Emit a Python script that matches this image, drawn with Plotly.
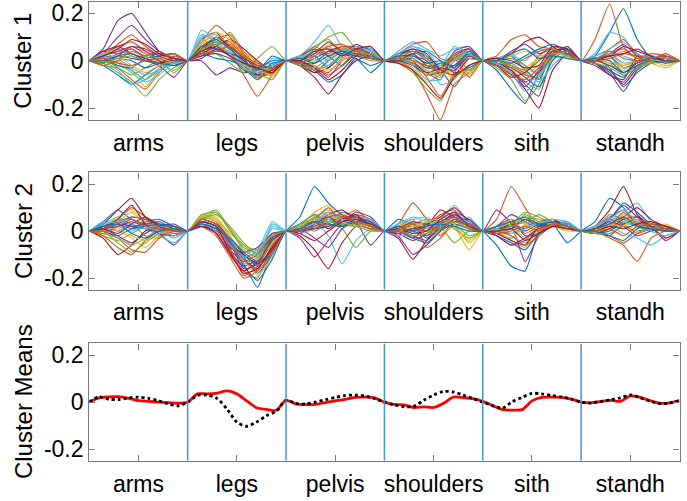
import plotly.graph_objects as go

# Movement segments along the x axis (one unit each)
SEGMENTS = ["arms", "legs", "pelvis", "shoulders", "sith", "standh"]
# MATLAB default line colour order
COLORS = ["#0072BD", "#D95319", "#EDB120", "#7E2F8E", "#77AC30", "#4DBEEE", "#A2142F"]
# interior sample positions within a segment (segment fraction)
T_IN = [0.14, 0.29, 0.43, 0.57, 0.71, 0.86]

# ---- Cluster 1 profiles, values in hundredths, one row per subject ----
C1_ARMS = [
    [-2, -6, -10, -6, -2, 1], [1, -3, -8, -12, -5, 0], [2, 4, 3, 1, 0, -2], [5, 17, 20, 12, 4, 1],
    [-1, -5, -9, -15, -8, -3], [0, -4, -10, -8, -3, 2], [3, 6, 8, 4, 1, -1], [4, 3, 5, 2, 3, 1],
    [2, 7, 11, 6, 2, -2], [1, 0, -4, -11, -4, 0], [3, 10, 15, 9, 4, 1], [-2, -3, -6, -3, 0, -5],
    [3, 5, 2, 0, 2, 3], [-1, 2, 6, 3, 0, -2], [2, 1, 0, -3, -1, 1], [0, 3, 5, 1, -2, 2],
    [3, 5, 8, 3, 1, 0], [1, 2, 1, 0, -2, -7], [0, -2, -4, -8, -4, 0], [2, -1, -5, -9, -6, -1],
    [4, 6, 3, 1, -1, 0], [1, -2, -3, 1, 2, 3], [-2, 0, 4, 2, 4, 1], [1, 2, -2, -5, -2, 0],
    [2, 4, 6, 5, 2, 0], [-1, 1, 2, 0, -1, -4], [3, 1, -3, -6, -4, -1], [2, 5, 9, 7, 3, 1],
    [0, 2, 3, 0, -1, -2], [1, -1, -2, 0, 1, 3],
]
C1_LEGS = [
    [5, 8, 6, -2, -6, -4], [8, 15, 10, 2, -3, -2], [6, 10, 7, 3, -5, -6], [9, 12, 5, -1, -5, -3],
    [3, 6, 12, 4, -2, -4], [13, 9, 5, 0, -4, -3], [4, 7, 8, 2, -4, -5], [2, 4, 3, -3, -8, -2],
    [2, 5, 3, -6, -15, -6], [7, 9, 8, 4, -1, -7], [0, -6, -3, -5, -4, -2], [4, 3, -1, -5, 1, 6],
    [10, 11, 6, 1, -2, -1], [3, 6, 9, 5, 0, -4], [6, 5, 2, -4, -6, -1], [5, 9, 11, 3, -3, -5],
    [7, 12, 9, 2, -2, -4], [2, 3, 1, -3, -7, -5], [4, 8, 5, 0, -5, -8], [9, 6, 4, -1, -5, 1],
    [5, 10, 6, 1, -6, -4], [3, 1, 0, -2, -3, 0], [6, 4, 7, 0, -8, -3], [8, 10, 4, -2, -4, -6],
    [1, 5, 3, 1, -2, -3], [5, 7, 2, -3, -7, -2], [11, 8, 3, -3, -5, -2], [4, 6, 2, -1, -3, -5],
    [6, 9, 5, 0, -4, 2], [3, 4, 6, 2, -1, -3],
]
C1_PELVIS = [
    [-1, -4, -9, -6, 1, -5], [1, 4, 2, 5, 4, 2], [2, 3, 5, 4, 3, 1], [-2, -5, 0, 4, 5, 5],
    [1, 6, 9, 3, 2, 1], [2, 8, 15, 6, 4, 2], [-2, -7, -14, -6, 0, 2], [0, 2, -3, 3, 5, 3],
    [-1, -3, -6, -2, 4, 6], [1, 0, 3, 6, 4, 2], [-2, -2, -7, 0, 3, 4], [0, 5, 10, 12, 5, 3],
    [1, 3, 6, 2, 6, 5], [-1, -5, -3, 2, 7, 4], [2, 5, 2, -2, 3, 1], [0, -3, -5, 1, 4, 3],
    [1, 2, 7, 5, 3, 4], [-1, -1, 4, 6, 6, 3], [-2, -4, -2, 3, 2, 0], [1, 4, 0, 4, 5, 6],
    [0, -3, -8, -4, 2, 3], [-1, 1, 4, 3, 1, -2], [2, 6, 3, 6, 5, 2], [1, -2, -4, 0, 3, 2],
    [0, 3, 8, 4, 2, 1], [-1, -3, 1, 5, 4, 3], [2, 1, -2, 2, 6, 4], [0, 4, 5, 2, 5, 6],
    [1, -1, 2, 4, 3, 2], [-1, 2, 6, 7, 4, 1],
]
C1_SHOULDERS = [
    [2, 1, -3, -4, -11, -2], [0, -4, -14, -25, -10, -5], [1, 3, -2, -3, -5, -6], [3, 4, 2, -3, 1, 4],
    [-1, -5, -12, -17, -6, -4], [4, 8, 5, 2, 5, 6], [1, -2, -6, -5, -3, 2], [2, 5, 1, -4, -2, 3],
    [3, 7, 8, 1, 0, 2], [0, -3, -9, -6, -4, 1], [2, 2, 0, -6, 2, 5], [-1, -1, -4, -7, 0, 3],
    [3, 6, 2, -10, -8, 4], [0, -2, -5, -3, 3, 5], [1, 3, 4, 0, -5, -3], [2, 0, -7, -15, -5, 2],
    [1, 2, -1, -2, -8, 1], [0, -1, -5, -8, 4, 6], [2, 4, 1, -2, 3, -4], [1, -2, -8, -8, 0, 4],
    [3, 5, 3, -4, -6, 1], [0, 1, -3, -1, -2, 3], [1, 4, 0, -5, 1, -7], [2, 1, -4, -6, -3, -5],
    [0, 3, -2, -3, -4, 2], [1, -1, -6, -4, 2, 1], [3, 6, 4, -2, 6, 3], [-1, -4, -10, -16, -7, -2],
    [2, 2, -1, 0, -3, 4], [1, 0, -2, -3, 1, 5],
]
C1_SITH = [
    [-4, -12, -18, -5, 3, 4], [2, 9, 11, 6, 5, 3], [0, -3, -6, -2, 3, 2], [-2, -5, -10, -15, 2, 4],
    [-3, -8, -17, -10, 4, 3], [1, 3, -2, -5, 4, 5], [-1, -6, -12, -20, -4, 3], [0, 2, -4, -8, 3, 6],
    [1, -2, -5, 2, 6, 4], [-1, -4, -8, -3, 2, 1], [0, 4, 7, 3, 5, 3], [-2, -5, -9, -12, 1, 2],
    [1, 2, 0, 5, 4, 3], [0, 3, 8, 10, 6, 2], [-1, -3, -7, -11, 0, 5], [0, -2, 1, 4, 5, 3],
    [-1, -5, -3, 1, 3, 2], [-2, -4, -9, -5, 2, 6], [0, 1, -2, -6, 3, 4], [1, -1, -5, -9, -2, 3],
    [-2, -7, -5, 0, 4, 5], [0, -1, 2, 5, 7, 4], [-1, -3, -6, -7, 2, 3], [1, 2, 4, 2, 3, 2],
    [-1, -4, -11, -4, 4, 3], [0, -2, -4, 0, 5, 2], [-1, -5, -13, -7, 1, 4], [1, 0, -3, -2, 6, 5],
    [0, 3, 5, 1, 2, 1], [-2, -6, -8, -3, 3, 4],
]
C1_STANDH = [
    [2, 12, 22, 9, 1, 0], [9, 24, 6, 1, 2, 1], [1, 3, -2, 0, 1, -1], [-1, -5, -13, -4, 0, 1],
    [0, 2, -5, -2, 1, 0], [3, 12, 10, 2, 0, 1], [-1, -4, -10, -3, 1, 2], [1, -3, -11, -5, -1, 0],
    [2, 5, 9, 3, 1, 2], [0, -2, -4, 1, 0, -2], [1, 3, 7, 2, -1, 0], [0, -1, -6, -3, 0, 1],
    [2, 4, 2, 0, 1, 2], [-1, -6, -8, 2, 1, 0], [1, 2, -3, -1, 2, 1], [0, 3, 5, 1, 3, 2],
    [1, -1, -2, 0, -1, -3], [-2, -6, -9, -2, 0, 1], [1, 2, 4, 1, 0, 1], [0, 5, 8, 3, 1, 0],
    [1, 2, 6, 4, 2, 1], [-1, -4, -7, 0, 1, 0], [0, 1, 3, 2, 1, 3], [1, 0, -3, -2, 0, -1],
    [0, -2, -5, -1, 1, 2], [-1, -3, -6, -3, -1, 0], [1, 3, -1, 0, 2, 1], [0, 2, 3, 5, 2, 0],
    [1, 0, -5, -2, 0, -1], [0, 4, 1, 0, 1, 2],
]

# ---- Cluster 2 profiles, values in hundredths ----
C2_ARMS = [
    [4, 9, 5, 3, 2, 1], [2, 5, 10, 6, 3, 0], [1, 0, -3, -7, -2, 1], [0, 3, 2, 1, -1, -6],
    [-2, -4, -1, 2, 3, 1], [3, 6, 2, 1, -2, -5], [3, 9, 14, 6, 2, 0], [2, 4, 6, 5, 3, 1],
    [-2, -7, -10, -4, 0, 2], [0, 4, 8, 3, 1, -1], [1, -2, -5, -1, 2, 3], [2, 5, 3, -2, -3, 0],
    [4, 2, 0, 3, 1, -3], [-3, -10, -6, 0, 2, 1], [1, 3, 1, 4, 5, 2], [0, -3, -8, -9, -3, 1],
    [2, 6, 9, 4, 2, 0], [1, 2, 4, 2, 0, -2], [-1, -3, -6, -3, 1, 2], [2, 0, 3, 1, 2, 1],
    [1, 5, 11, 3, -1, -2], [0, -2, 1, 2, 3, 2], [1, 3, 6, 5, 1, -1], [-1, 1, -2, -4, -1, 0],
    [2, 4, 2, 3, 4, 1], [0, -5, -9, -5, -1, 1], [3, 4, 5, 2, 0, -2], [1, -1, 3, 6, 2, 0],
    [2, 3, -1, -3, 0, 1], [-1, 2, 5, 2, 1, 0],
]
C2_LEGS = [
    [4, 2, -6, -14, -24, -8], [3, 0, -8, -17, -20, -6], [5, 6, -2, -10, -14, -4], [2, -1, -9, -15, -12, -2],
    [6, 9, 1, -8, -11, -3], [5, 3, -3, -9, -8, 4], [3, 1, -5, -12, -16, -7], [6, 4, -4, -11, -18, -10],
    [4, 2, -7, -19, -15, -5], [7, 5, -1, -6, -10, -6], [2, 0, -6, -11, -9, -3], [7, 8, 0, -7, -9, -1],
    [4, 2, -4, -13, -12, 2], [3, -1, -10, -17, -13, -4], [5, 3, -3, -10, -15, -9], [2, -2, -11, -20, -17, -6],
    [6, 4, -2, -12, -19, -11], [3, 1, -7, -9, -7, -1], [5, 7, 2, -5, -10, -5], [4, 1, -5, -14, -11, 3],
    [2, 0, -6, -10, -14, -8], [5, 3, -4, -15, -21, -12], [3, 1, -8, -13, -10, -2], [6, 5, -3, -8, -12, -5],
    [4, 2, -5, -16, -14, -3], [5, 8, 1, -6, -8, -2], [3, 0, -6, -11, -9, 1], [4, 2, -9, -18, -16, -7],
    [3, 1, -3, -9, -13, -4], [5, 3, -5, -12, -17, -9],
]
C2_PELVIS = [
    [6, 19, 12, 7, 4, 2], [1, 4, 8, 6, 9, 4], [2, 6, 9, 5, 4, 2], [-3, -11, -4, 3, 4, -6],
    [2, 0, 3, 1, -7, 0], [1, 4, -2, -14, -4, 1], [-2, -8, -16, -5, 2, 3], [3, 7, 4, 8, 6, 3],
    [0, 2, 5, 3, 7, 5], [2, 8, 11, 6, 3, 1], [-1, 3, 6, 4, 8, 6], [3, 5, 2, 4, 5, 2],
    [1, 6, 8, 3, 2, 4], [0, 3, 7, 9, 5, 2], [2, 1, 4, 6, 3, 1], [1, 5, 10, 4, 6, 3],
    [0, 2, 4, 7, 5, 2], [1, -3, -7, 1, 4, 3], [3, 7, 5, 2, 3, 1], [-1, 1, 5, 3, 6, 5],
    [2, 4, 1, 5, 7, 2], [0, 3, 6, 2, 4, 3], [1, 2, 3, 6, 3, 1], [2, 5, 7, 4, 2, 3],
    [0, 1, 2, 5, 6, 4], [1, 6, 4, 3, 2, 0], [2, 3, 8, 5, 4, 2], [-1, -4, 0, 4, 5, 3],
    [1, 4, 3, 2, 5, 4], [0, 2, 6, 7, 4, 2],
]
C2_SHOULDERS = [
    [5, 3, 1, 4, 6, 3], [3, 12, 5, -2, 4, 2], [0, -2, -5, 1, 2, -8], [-2, -10, -6, 0, 5, 3],
    [1, 2, 3, 2, -5, 0], [2, 4, 2, 5, 11, 4], [-3, -12, -4, 2, 6, 2], [1, 0, -2, 3, 7, 4],
    [2, 5, -7, -3, 3, 1], [0, 1, 4, 6, 5, 2], [-1, -4, -1, 3, 8, 5], [2, 3, 0, 4, 3, -2],
    [3, 5, 6, 2, 4, 6], [0, -3, 2, 9, 6, 3], [1, 2, -3, 1, 5, 2], [-1, 0, 3, 7, 9, 1],
    [2, 4, 1, -1, 2, -4], [0, -2, -4, 2, 4, 5], [1, 3, 5, 4, 1, -3], [-2, -1, 2, 5, 8, 3],
    [1, 4, 3, 6, 10, 4], [0, -3, -5, 0, 3, 1], [2, 1, 0, 3, 6, 2], [1, 2, 4, 5, 3, -5],
    [-1, 1, 2, 4, 7, 3], [0, -2, -1, 2, 4, 1], [3, 6, 4, 3, 5, 4], [1, -1, 0, 5, 8, 2],
    [2, 0, 2, 3, 2, 0], [0, 3, -2, 1, 5, 3],
]
C2_SITH = [
    [-6, -15, -17, 0, 3, -5], [5, 19, 10, 2, 2, 1], [0, -4, -7, 1, 3, 2], [9, 3, -13, -2, 2, 1],
    [1, 3, 6, 5, 4, 2], [-1, -3, 2, 4, 3, 3], [2, 5, -2, -1, 4, 3], [1, 2, 5, 3, 2, 4],
    [-2, -6, -4, 2, 3, 1], [0, 2, -3, 3, 4, 2], [2, 7, 4, 1, 2, 3], [-1, 1, 7, 4, 3, 2],
    [1, -2, -5, 0, 3, 4], [0, 3, 1, 4, 5, 2], [-2, -5, -8, -1, 2, 3], [1, 4, -1, 2, 3, 1],
    [-1, -3, 3, 5, 2, 3], [0, 1, 5, 2, 4, 2], [2, 3, 8, 6, 3, 1], [0, -1, 2, 3, 5, 4],
    [-1, -4, -6, 2, 4, 2], [1, 2, 0, 3, 2, 3], [0, -2, -6, -2, 3, 2], [1, 5, 3, 1, 2, 0],
    [-2, -6, -3, 1, 3, 3], [0, 2, 4, 7, 4, 2], [1, -1, 1, 4, 3, 3], [0, 1, -4, -1, 2, 1],
    [2, 4, 6, 3, 4, 2], [-1, 0, 2, 0, 3, 2],
]
C2_STANDH = [
    [4, 14, 10, 3, 2, 1], [0, -3, -6, -13, -3, 0], [1, 3, 5, 2, 1, 2], [2, 6, 9, 4, 3, 1],
    [-1, 1, 3, 6, 2, 0], [1, 4, 8, 12, 4, 1], [2, 9, 19, 7, 2, -3], [1, 5, 12, 8, 3, 2],
    [-1, -2, -5, -1, 2, 1], [2, 4, 1, 3, 4, 2], [0, -2, 3, 5, 1, 0], [1, 7, 5, 2, 0, 1],
    [0, 2, -1, -3, -6, -2], [1, 3, 6, 10, 5, 2], [-1, 0, 4, 2, 3, 1], [2, 5, 3, -1, 1, 2],
    [0, 1, 7, 4, 2, 3], [1, 4, 2, -2, 0, 1], [0, 3, 6, 3, 2, 0], [2, 6, 4, 2, 3, 2],
    [-1, 1, 5, 6, 2, -4], [0, -2, -4, 1, 3, 2], [1, 2, 8, 3, 1, 0], [0, 3, 2, 5, 3, 1],
    [1, 5, 11, 6, 2, 1], [-1, -1, 2, 0, 1, 2], [2, 5, 9, 4, 0, -2], [0, 2, 1, 3, 4, 2],
    [1, 3, 6, 2, 1, 0], [0, 1, -2, 2, 3, 1],
]

CLUSTER1 = [C1_ARMS, C1_LEGS, C1_PELVIS, C1_SHOULDERS, C1_SITH, C1_STANDH]
CLUSTER2 = [C2_ARMS, C2_LEGS, C2_PELVIS, C2_SHOULDERS, C2_SITH, C2_STANDH]

# ---- Cluster means, hundredths, sampled every tenth of a segment ----
MEAN_T = [0.0, 0.1, 0.2, 0.3, 0.4, 0.5, 0.6, 0.7, 0.8, 0.9]
MEAN1 = [
    [0, 1.8, 2.2, 2.3, 1.6, 0.6, 0.3, 0, -0.2, -0.5],
    [0, 3.5, 3.5, 3.8, 4.8, 3.5, 0.5, -2.4, -3.1, -3.5],
    [0.7, -0.8, -1.1, -1.0, -0.2, 0.5, 1.2, 2.0, 2.1, 1.8],
    [0, -1.0, -1.2, -2.3, -2.0, -2.3, -0.5, 2.1, 1.9, 1.5],
    [0.3, -1.5, -3.2, -3.4, -3.2, 0.5, 2.0, 2.1, 2.0, 1.3],
    [0, -0.3, 0.3, 0.7, 0.3, 2.6, 2.0, 0.6, -0.5, -0.3],
]
MEAN1_END = 0.6
MEAN2 = [
    [0, 2.2, 1.2, 1.1, 1.8, 2.1, 1.6, 0.6, -0.7, -1.6],
    [0, 2.8, 3.0, 1.5, -3.0, -8.5, -10.3, -8.5, -5.8, -3.9],
    [0.7, -0.6, -0.8, 0, 1.0, 2.0, 2.8, 3.0, 2.6, 1.5],
    [0, -1.2, -2.0, -1.8, 0.8, 3.0, 4.5, 4.3, 3.0, 1.5],
    [0, -1.5, -2.6, 0.2, 2.0, 3.7, 3.5, 2.8, 2.2, 1.3],
    [0, -0.4, 0.2, 1.0, 1.8, 3.1, 1.9, 0.4, -0.6, -0.4],
]
MEAN2_END = 0.6

FONT = "Liberation Sans, Arial, Helvetica, sans-serif"
AXIS_GRAY = "#7a7a7a"
SEP_BLUE = "#3f97d6"


def subject_series(cluster, i):
    xs, ys = [], []
    for k, seg in enumerate(cluster):
        xs.append(k)
        ys.append(0.0)
        for t, v in zip(T_IN, seg[i]):
            xs.append(k + t)
            ys.append(v / 100)
    xs.append(len(cluster))
    ys.append(0.0)
    return xs, ys


def mean_series(segs, end):
    xs, ys = [], []
    for k, seg in enumerate(segs):
        for t, v in zip(MEAN_T, seg):
            xs.append(k + t)
            ys.append(v / 100)
    xs.append(len(segs))
    ys.append(end / 100)
    return xs, ys


fig = go.Figure()

for row, cluster in ((1, CLUSTER1), (2, CLUSTER2)):
    axis_suffix = "" if row == 1 else str(row)
    for i in range(len(cluster[0])):
        xs, ys = subject_series(cluster, i)
        fig.add_trace(go.Scatter(
            x=xs, y=ys, mode="lines", xaxis="x" + axis_suffix, yaxis="y" + axis_suffix,
            line=dict(color=COLORS[i % len(COLORS)], width=1.1, shape="spline", smoothing=0.5),
            showlegend=False, hoverinfo="skip"))

xs, ys = mean_series(MEAN1, MEAN1_END)
fig.add_trace(go.Scatter(x=xs, y=ys, mode="lines", xaxis="x3", yaxis="y3",
                         line=dict(color="#FF0000", width=2.8, shape="spline", smoothing=0.8),
                         showlegend=False))
xs, ys = mean_series(MEAN2, MEAN2_END)
fig.add_trace(go.Scatter(x=xs, y=ys, mode="lines", xaxis="x3", yaxis="y3",
                         line=dict(color="#000000", width=2.8, dash="dot", shape="spline", smoothing=0.8),
                         showlegend=False))

H = 501.0
W = 687.0
X_DOMAIN = [89.3 / W, 679.5 / W]
PANELS = [(0.6, 119.4, "Cluster 1"), (172.1, 289.9, "Cluster 2"), (343.8, 461.6, "Cluster Means")]

layout = dict(
    width=687, height=501,
    margin=dict(l=0, r=0, t=0, b=0),
    paper_bgcolor="white", plot_bgcolor="white",
    font=dict(family=FONT, size=23, color="#000000"),
    showlegend=False,
)
annotations = []
shapes = []
for n, (top, bottom, title) in enumerate(PANELS, start=1):
    sfx = "" if n == 1 else str(n)
    layout["xaxis" + sfx] = dict(
        domain=X_DOMAIN, range=[0, 6], anchor="y" + sfx,
        tickvals=[k + 0.5 for k in range(6)], ticktext=SEGMENTS,
        ticks="inside", ticklen=6, tickwidth=1, tickcolor=AXIS_GRAY,
        showline=True, linecolor=AXIS_GRAY, linewidth=1.3, mirror="ticks",
        showgrid=False, zeroline=False, ticklabelstandoff=2,
        tickfont=dict(size=23, family=FONT, color="#000000"), fixedrange=True)
    layout["yaxis" + sfx] = dict(
        domain=[1 - bottom / H, 1 - top / H], range=[-0.25, 0.25], anchor="x" + sfx,
        tickvals=[-0.2, 0, 0.2], ticktext=["-0.2", "0", "0.2"],
        ticks="inside", ticklen=6, tickwidth=1, tickcolor=AXIS_GRAY,
        showline=True, linecolor=AXIS_GRAY, linewidth=1.3, mirror="ticks",
        showgrid=False, zeroline=False,
        tickfont=dict(size=23, family=FONT, color="#000000"), fixedrange=True)
    annotations.append(dict(
        text=title, textangle=-90, xref="paper", yref="paper",
        x=23 / W, y=1 - (top + bottom) / 2 / H, xanchor="center", yanchor="middle",
        showarrow=False, font=dict(size=24, family=FONT, color="#000000")))
    for b in range(1, 6):
        shapes.append(dict(type="line", xref="x" + sfx, yref="y" + sfx,
                           x0=b, x1=b, y0=-0.25, y1=0.25, layer="above",
                           line=dict(color=SEP_BLUE, width=1.5)))

layout["annotations"] = annotations
layout["shapes"] = shapes
fig.update_layout(**layout)

fig.write_html("out.html")
